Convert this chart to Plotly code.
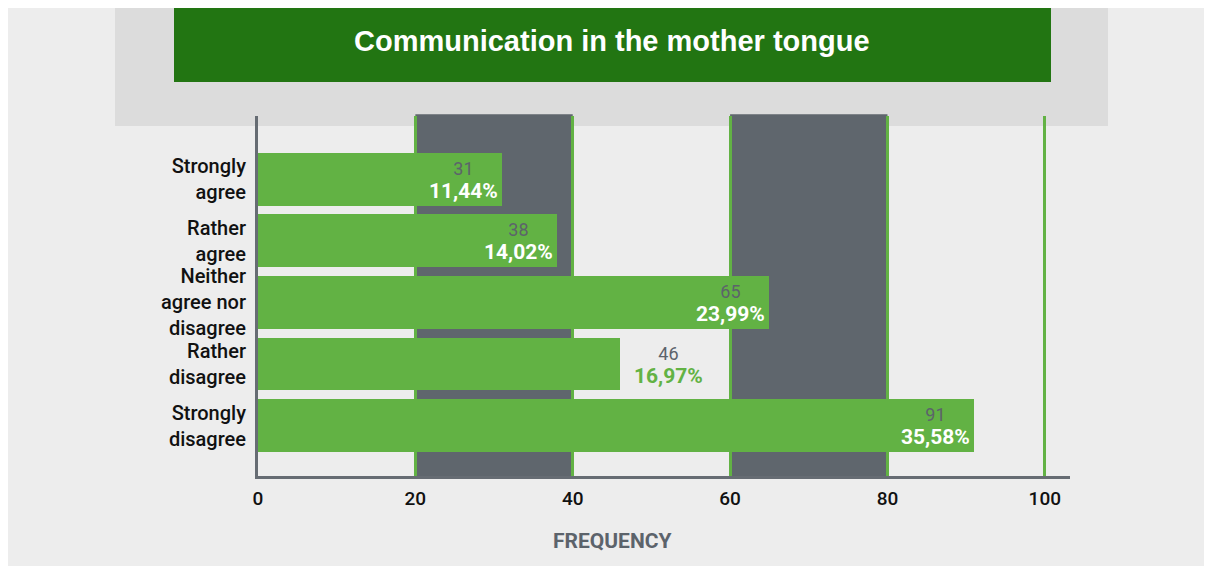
import plotly.graph_objects as go

categories = ["Strongly<br>agree", "Rather<br>agree", "Neither<br>agree nor<br>disagree", "Rather<br>disagree", "Strongly<br>disagree"]
counts = [31, 38, 65, 46, 91]
percents = ["11,44%", "14,02%", "23,99%", "16,97%", "35,58%"]
label_outside = [False, False, False, True, False]
x_ticks = [0, 20, 40, 60, 80, 100]
bands = [(20, 40), (60, 80)]
title = "Communication in the mother tongue"
x_title = "FREQUENCY"

# page has an 8px body margin: figure coords = screen coords - 8
OFF = 8
W, H = 1212 - OFF, 566 - OFF
L, R, T, B = 258 - OFF, 1070 - OFF, 116 - OFF, 476 - OFF
GREEN = "#62b244"
GREY_TXT = "#5c636b"
BAND = "#5f666d"

def px_x(p):  # p in screen px
    return (p - OFF - L) / (R - L)

def px_y(p):
    return (B - (p - OFF)) / (B - T)

ypos = list(range(len(categories)))

fig = go.Figure()
fig.add_trace(go.Bar(
    x=counts, y=ypos, orientation="h", width=0.86,
    marker=dict(color=GREEN, line=dict(width=0)),
    hoverinfo="skip",
))

shapes = []
# header band
shapes.append(dict(type="rect", xref="paper", yref="paper", layer="below",
                   x0=px_x(115), x1=px_x(1108), y0=px_y(126), y1=px_y(0),
                   fillcolor="#dcdcdc", line=dict(width=0)))
# green title box
shapes.append(dict(type="rect", xref="paper", yref="paper", layer="below",
                   x0=px_x(174), x1=px_x(1051), y0=px_y(82), y1=px_y(0),
                   fillcolor="#227512", line=dict(width=0)))
# dark bands
for a, b in bands:
    shapes.append(dict(type="rect", xref="x", yref="paper", layer="below",
                       x0=a, x1=b, y0=0, y1=1.005,
                       fillcolor=BAND, line=dict(width=0)))

annotations = [dict(text="<b>" + title + "</b>", xref="paper", yref="paper",
                    x=px_x(612), y=px_y(41), xanchor="center", yanchor="middle",
                    showarrow=False,
                    font=dict(family="Liberation Sans, Arial", size=29, color="white")),
               dict(text="<b>" + x_title + "</b>", xref="paper", yref="paper",
                    x=px_x(612), y=px_y(541), xanchor="center", yanchor="middle",
                    showarrow=False,
                    font=dict(family="Roboto", size=21, color=GREY_TXT))]

for i, (c, p, out) in enumerate(zip(counts, percents, label_outside)):
    txt = (f"<span style='color:{GREY_TXT}'>{c}</span><br>"
           f"<span style='font-size:21px'><b>{p}</b></span>")
    if out:
        annotations.append(dict(text=txt, x=c, y=i, xref="x", yref="y",
                                xanchor="left", yanchor="middle", xshift=12, yshift=-1,
                                showarrow=False, align="center",
                                font=dict(family="Roboto", size=18, color=GREEN)))
    else:
        annotations.append(dict(text=txt, x=c, y=i, xref="x", yref="y",
                                xanchor="right", yanchor="middle", xshift=-2, yshift=-1,
                                showarrow=False, align="center",
                                font=dict(family="Roboto", size=18, color="white")))

fig.update_layout(
    width=W, height=H,
    margin=dict(l=L, r=W - R, t=T, b=H - B, pad=0),
    paper_bgcolor="#ededed",
    plot_bgcolor="rgba(0,0,0,0)",
    showlegend=False,
    shapes=shapes,
    annotations=annotations,
    bargap=0,
    xaxis=dict(range=[0, 103.2], tickvals=x_ticks, ticktext=[str(t) for t in x_ticks],
               showgrid=True, gridcolor=GREEN, gridwidth=3, zeroline=False,
               showline=True, linecolor="#666c73", linewidth=3,
               ticks="", ticklabelstandoff=3,
               tickfont=dict(family="Roboto", size=19, color="#111111", weight=500),
               fixedrange=True),
    yaxis=dict(range=[4.82, -1.03], tickvals=ypos, ticktext=categories,
               showgrid=False, zeroline=False,
               showline=True, linecolor="#666c73", linewidth=3,
               ticks="", ticklabelstandoff=5,
               tickfont=dict(family="Roboto", size=20, color="#111111", weight=500),
               fixedrange=True),
)

fig.write_html("out.html")
